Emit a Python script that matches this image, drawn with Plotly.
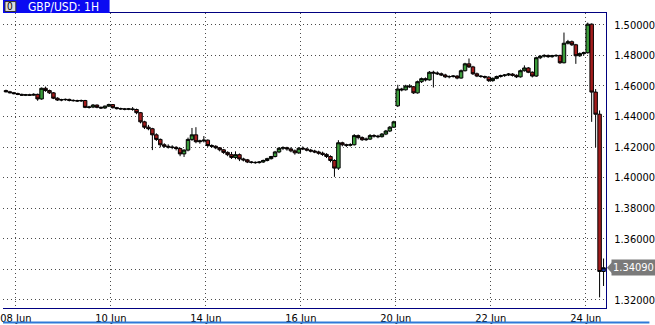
import plotly.graph_objects as go

# ---------------- data (2-hour candles, GBP/USD) ----------------
opens = [
    1.4570, 1.4562, 1.4556, 1.4550, 1.4545, 1.4540, 1.4542, 1.4540, 1.4545, 1.4515,
    1.4585, 1.4570, 1.4555, 1.4520, 1.4508, 1.4510, 1.4512, 1.4506, 1.4504, 1.4502,
    1.4505, 1.4460, 1.4462, 1.4475, 1.4460, 1.4456, 1.4468, 1.4478, 1.4458, 1.4452,
    1.4450, 1.4448, 1.4450, 1.4446, 1.4425, 1.4365, 1.4330, 1.4320, 1.4280, 1.4250,
    1.4215, 1.4205, 1.4200, 1.4198, 1.4190, 1.4155, 1.4180, 1.4250, 1.4280, 1.4235,
    1.4240, 1.4245, 1.4210, 1.4205, 1.4195, 1.4182, 1.4165, 1.4150, 1.4132, 1.4150,
    1.4122, 1.4116, 1.4102, 1.4100, 1.4098, 1.4102, 1.4112, 1.4124, 1.4138, 1.4168,
    1.4192, 1.4196, 1.4188, 1.4175, 1.4162, 1.4192, 1.4188, 1.4180, 1.4174, 1.4168,
    1.4160, 1.4152, 1.4138, 1.4112, 1.4062, 1.4228, 1.4215, 1.4212, 1.4215, 1.4275,
    1.4262, 1.4248, 1.4252, 1.4275, 1.4272, 1.4268, 1.4285, 1.4305, 1.4330, 1.4470,
    1.4580, 1.4575, 1.4600, 1.4595, 1.4555, 1.4628, 1.4648, 1.4640, 1.4690, 1.4685,
    1.4680, 1.4672, 1.4660, 1.4662, 1.4665, 1.4652, 1.4700, 1.4745, 1.4725, 1.4680,
    1.4665, 1.4662, 1.4658, 1.4635, 1.4650, 1.4662, 1.4668, 1.4672, 1.4678, 1.4670,
    1.4660, 1.4700, 1.4718, 1.4690, 1.4665, 1.4785, 1.4795, 1.4800, 1.4792, 1.4798,
    1.4800, 1.4752, 1.4880, 1.4890, 1.4870, 1.4798, 1.4812, 1.4818, 1.5005, 1.4560,
    1.4415, 1.3385,
]
highs = [
    1.4576, 1.4568, 1.4561, 1.4556, 1.4550, 1.4548, 1.4549, 1.4552, 1.4550, 1.4590,
    1.4596, 1.4576, 1.4560, 1.4526, 1.4516, 1.4518, 1.4517, 1.4512, 1.4510, 1.4511,
    1.4509, 1.4470, 1.4482, 1.4479, 1.4466, 1.4472, 1.4484, 1.4482, 1.4463, 1.4458,
    1.4456, 1.4456, 1.4462, 1.4452, 1.4430, 1.4372, 1.4345, 1.4326, 1.4290, 1.4256,
    1.4225, 1.4218, 1.4212, 1.4206, 1.4196, 1.4185, 1.4262, 1.4325, 1.4330, 1.4248,
    1.4272, 1.4250, 1.4218, 1.4212, 1.4200, 1.4188, 1.4172, 1.4168, 1.4172, 1.4158,
    1.4130, 1.4122, 1.4108, 1.4106, 1.4108, 1.4118, 1.4130, 1.4142, 1.4175, 1.4200,
    1.4205, 1.4202, 1.4198, 1.4184, 1.4200, 1.4204, 1.4195, 1.4188, 1.4182, 1.4176,
    1.4170, 1.4160, 1.4146, 1.4120, 1.4245, 1.4235, 1.4222, 1.4225, 1.4285, 1.4282,
    1.4270, 1.4262, 1.4285, 1.4284, 1.4280, 1.4292, 1.4312, 1.4338, 1.4372, 1.4608,
    1.4588, 1.4608, 1.4612, 1.4600, 1.4635, 1.4655, 1.4656, 1.4698, 1.4700, 1.4695,
    1.4688, 1.4680, 1.4670, 1.4672, 1.4670, 1.4708, 1.4752, 1.4780, 1.4732, 1.4688,
    1.4672, 1.4668, 1.4664, 1.4656, 1.4668, 1.4674, 1.4678, 1.4685, 1.4684, 1.4676,
    1.4708, 1.4735, 1.4724, 1.4696, 1.4792, 1.4802, 1.4808, 1.4806, 1.4804, 1.4808,
    1.4805, 1.4950, 1.4902, 1.4898, 1.4876, 1.4820, 1.4825, 1.5015, 1.5010, 1.4580,
    1.4440, 1.3470,
]
lows = [
    1.4558, 1.4551, 1.4545, 1.4540, 1.4535, 1.4534, 1.4535, 1.4536, 1.4503, 1.4510,
    1.4562, 1.4548, 1.4514, 1.4502, 1.4500, 1.4503, 1.4499, 1.4498, 1.4495, 1.4496,
    1.4455, 1.4452, 1.4455, 1.4454, 1.4449, 1.4450, 1.4462, 1.4452, 1.4446, 1.4444,
    1.4441, 1.4442, 1.4438, 1.4415, 1.4355, 1.4318, 1.4310, 1.4180, 1.4240, 1.4198,
    1.4195, 1.4190, 1.4186, 1.4178, 1.4140, 1.4135, 1.4172, 1.4240, 1.4225, 1.4222,
    1.4230, 1.4200, 1.4195, 1.4186, 1.4172, 1.4155, 1.4140, 1.4122, 1.4120, 1.4108,
    1.4106, 1.4095, 1.4092, 1.4090, 1.4092, 1.4096, 1.4106, 1.4118, 1.4132, 1.4160,
    1.4180, 1.4176, 1.4166, 1.4150, 1.4155, 1.4180, 1.4172, 1.4165, 1.4160, 1.4150,
    1.4142, 1.4128, 1.4100, 1.4005, 1.4050, 1.4205, 1.4200, 1.4204, 1.4210, 1.4250,
    1.4240, 1.4240, 1.4246, 1.4262, 1.4258, 1.4262, 1.4278, 1.4298, 1.4325, 1.4462,
    1.4565, 1.4570, 1.4588, 1.4548, 1.4550, 1.4620, 1.4630, 1.4635, 1.4590, 1.4672,
    1.4665, 1.4652, 1.4650, 1.4655, 1.4644, 1.4648, 1.4695, 1.4718, 1.4672, 1.4658,
    1.4654, 1.4648, 1.4626, 1.4628, 1.4644, 1.4655, 1.4660, 1.4665, 1.4662, 1.4652,
    1.4655, 1.4694, 1.4684, 1.4656, 1.4660, 1.4776, 1.4786, 1.4784, 1.4785, 1.4790,
    1.4745, 1.4748, 1.4872, 1.4862, 1.4745, 1.4790, 1.4800, 1.4812, 1.4365, 1.4200,
    1.3215, 1.3290,
]
closes = [
    1.4562, 1.4556, 1.4550, 1.4545, 1.4540, 1.4542, 1.4540, 1.4545, 1.4515, 1.4585,
    1.4570, 1.4555, 1.4520, 1.4508, 1.4510, 1.4512, 1.4506, 1.4504, 1.4502, 1.4505,
    1.4460, 1.4462, 1.4475, 1.4460, 1.4456, 1.4468, 1.4478, 1.4458, 1.4452, 1.4450,
    1.4448, 1.4450, 1.4446, 1.4425, 1.4365, 1.4330, 1.4320, 1.4280, 1.4250, 1.4215,
    1.4205, 1.4200, 1.4198, 1.4190, 1.4155, 1.4180, 1.4250, 1.4280, 1.4235, 1.4240,
    1.4245, 1.4210, 1.4205, 1.4195, 1.4182, 1.4165, 1.4150, 1.4132, 1.4150, 1.4122,
    1.4116, 1.4102, 1.4100, 1.4098, 1.4102, 1.4112, 1.4124, 1.4138, 1.4168, 1.4192,
    1.4196, 1.4188, 1.4175, 1.4162, 1.4192, 1.4188, 1.4180, 1.4174, 1.4168, 1.4160,
    1.4152, 1.4138, 1.4112, 1.4062, 1.4228, 1.4215, 1.4212, 1.4215, 1.4275, 1.4262,
    1.4248, 1.4252, 1.4275, 1.4272, 1.4268, 1.4285, 1.4305, 1.4330, 1.4365, 1.4580,
    1.4575, 1.4600, 1.4595, 1.4555, 1.4628, 1.4648, 1.4640, 1.4690, 1.4685, 1.4680,
    1.4672, 1.4660, 1.4662, 1.4665, 1.4652, 1.4700, 1.4745, 1.4725, 1.4680, 1.4665,
    1.4662, 1.4658, 1.4635, 1.4650, 1.4662, 1.4668, 1.4672, 1.4678, 1.4670, 1.4660,
    1.4700, 1.4718, 1.4690, 1.4665, 1.4785, 1.4795, 1.4800, 1.4792, 1.4798, 1.4800,
    1.4752, 1.4880, 1.4890, 1.4870, 1.4798, 1.4812, 1.4818, 1.5005, 1.4560, 1.4415,
    1.3385, 1.3409,
]

day_labels = ["08 Jun", "10 Jun", "14 Jun", "16 Jun", "20 Jun", "22 Jun", "24 Jun"]
day_first_bar = [3, 27, 51, 75, 99, 123, 147]   # index of first candle of each labelled day
price_ticks = [1.32, 1.34, 1.36, 1.38, 1.40, 1.42, 1.44, 1.46, 1.48, 1.50]
last_price = 1.34090
title_text = "GBP/USD: 1H"

# ---------------- figure ----------------
W, H = 655, 325
ML, MR, MT, MB = 0, 44, 13, 15
PW = W - ML - MR
PH = H - MT - MB

xs = list(range(len(closes)))
FONT = "Liberation Sans Narrow, Arial Narrow, DejaVu Sans Condensed, Liberation Sans, sans-serif"

fig = go.Figure()
fig.add_trace(go.Candlestick(
    x=xs[:-1], open=opens[:-1], high=highs[:-1], low=lows[:-1], close=closes[:-1],
    increasing=dict(fillcolor="#3c9c3c", line=dict(color="#000000", width=1)),
    decreasing=dict(fillcolor="#a41c1c", line=dict(color="#000000", width=1)),
    whiskerwidth=0, hoverinfo="skip", showlegend=False,
))
fig.add_trace(go.Candlestick(
    x=xs[-1:], open=opens[-1:], high=highs[-1:], low=lows[-1:], close=closes[-1:],
    increasing=dict(fillcolor="#2040c0", line=dict(color="#000000", width=1)),
    decreasing=dict(fillcolor="#2040c0", line=dict(color="#000000", width=1)),
    whiskerwidth=0, hoverinfo="skip", showlegend=False,
))

tick_text = [("" if abs(p - round(last_price, 2)) < 1e-9 else f"{p:.5f}") for p in price_ticks]

GRID = "#4a4a4a"
fig.update_layout(
    width=W, height=H,
    margin=dict(l=ML, r=MR, t=MT, b=MB, pad=0),
    paper_bgcolor="white", plot_bgcolor="white",
    boxgap=0.12, boxgroupgap=0,
    font=dict(family=FONT, size=11, color="black"),
    xaxis=dict(
        range=[-0.75, 151.62],
        tickvals=[b - 0.5 for b in day_first_bar], ticktext=day_labels,
        showgrid=True, gridcolor=GRID, griddash="1px,3px", gridwidth=1,
        showline=True, mirror=True, linecolor="#000080", linewidth=1,
        ticks="", zeroline=False, rangeslider=dict(visible=False),
        ticklabeloverflow="allow",
        tickfont=dict(family=FONT, size=11, color="black"),
    ),
    yaxis=dict(
        side="right", range=[1.31457, 1.50781],
        tickvals=price_ticks, ticktext=tick_text,
        showgrid=True, gridcolor=GRID, griddash="1px,3px", gridwidth=1,
        showline=True, linecolor="#000080", linewidth=1,
        ticks="", ticklabelstandoff=5, zeroline=False,
        tickfont=dict(family=FONT, size=11, color="black"),
    ),
)

px_x = 1.0 / PW
px_y = 1.0 / PH
shapes = [
    # title bar
    dict(type="rect", xref="paper", yref="paper", x0=0, x1=108 * px_x, y0=1, y1=1 + MT * px_y,
         fillcolor="#0a0af2", line=dict(width=0), layer="above"),
    # small icon button in title bar
    dict(type="rect", xref="paper", yref="paper", x0=2 * px_x, x1=13 * px_x,
         y0=1 + 1.5 * px_y, y1=1 + 11.5 * px_y,
         fillcolor="#dcdcdc", line=dict(color="#303030", width=1), layer="above"),
    # bottom blue separator
    dict(type="line", xref="paper", yref="paper", x0=0, x1=W * px_x,
         y0=-14.5 * px_y, y1=-14.5 * px_y, line=dict(color="#2f7ad8", width=2)),
    # arrow tip of last price label
    dict(type="path", xref="paper", yref="y",
         path=f"M {1 + 1 * px_x},{last_price} L {1 + 6 * px_x},{last_price + 5.5 * 0.0006506} "
              f"L {1 + 6 * px_x},{last_price - 5.5 * 0.0006506} Z",
         fillcolor="#7a7a7a", line=dict(width=0)),
]
annotations = [
    dict(xref="paper", yref="paper", x=23 * px_x, y=1 + 6.5 * px_y, xanchor="left", yanchor="middle",
         text=title_text, showarrow=False, font=dict(family=FONT, size=12, color="white")),
    dict(xref="paper", yref="paper", x=7.5 * px_x, y=1 + 6.5 * px_y, xanchor="center", yanchor="middle",
         text="0", showarrow=False, font=dict(family=FONT, size=10, color="black")),
    dict(xref="paper", yref="y", x=1 + 5 * px_x, y=last_price, xanchor="left", yanchor="middle",
         text=f"{last_price:.5f}", showarrow=False, bgcolor="#7a7a7a", borderpad=1,
         font=dict(family=FONT, size=11, color="white")),
]
fig.update_layout(shapes=shapes, annotations=annotations)

fig.write_html("out.html")
